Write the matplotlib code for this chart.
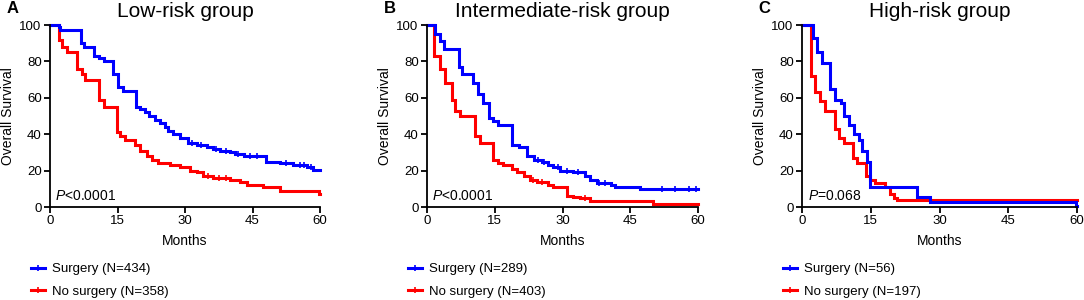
import numpy as np
import matplotlib.pyplot as plt
from matplotlib.lines import Line2D

plt.rcParams['font.family'] = ['Liberation Sans', 'DejaVu Sans']
plt.rcParams['mathtext.fontset'] = 'custom'
plt.rcParams['mathtext.it'] = 'Liberation Sans:italic'
plt.rcParams['mathtext.rm'] = 'Liberation Sans'

# ---- data ----
titles = ['Low-risk group', 'Intermediate-risk group', 'High-risk group']
letters = ['A', 'B', 'C']
pvals = ['$\\it{P}$<0.0001', '$\\it{P}$<0.0001', '$\\it{P}$=0.068']
surg_labels = ['Surgery (N=434)', 'Surgery (N=289)', 'Surgery (N=56)']
nosurg_labels = ['No surgery (N=358)', 'No surgery (N=403)', 'No surgery (N=197)']
xticks = [0, 15, 30, 45, 60]
yticks = [0, 20, 40, 60, 80, 100]

a_surg_t = [0, 2, 2.3, 6.8, 7.6, 9.7, 10.8, 11.9, 14.1, 15.0, 16.3, 19.0, 20.0, 21.0,
            21.9, 23.3, 24.4, 25.5, 26.3, 27.4, 28.9, 30.7, 32.6, 34.8, 36.3, 37.8,
            40.0, 41.1, 43.0, 48.0, 51.0, 54.0, 57.0, 58.5, 60]
a_surg_s = [100, 99, 97, 90, 88, 83, 82, 80, 73, 66, 64, 55, 54, 52,
            50, 48, 46, 44, 42, 40, 38, 35, 34, 33, 32, 31,
            30, 29, 28, 25, 24, 23, 22, 20.5, 20.5]
a_surg_cens = [31.5, 33.5, 36.8, 39.0, 41.8, 44.5, 46.0, 52.5, 55.5, 56.5, 58.0]

a_no_t = [0, 1.9, 2.7, 3.7, 5.9, 7.0, 7.8, 10.9, 11.9, 14.8, 15.6, 16.7, 18.9, 20.0,
          21.5, 22.6, 24.1, 26.7, 28.9, 31.1, 32.6, 34.1, 36.3, 40.0, 42.2, 43.7,
          47.4, 51.1, 59.8, 60]
a_no_s = [100, 92, 88, 85, 76, 73, 70, 59, 55, 41, 39, 37, 34, 31,
          28, 26, 24, 23, 22, 20, 19, 17, 16, 15, 14, 12,
          11, 9, 7, 7]
a_no_cens = [35.0, 37.5, 39.0]

b_surg_t = [0, 1.8, 2.9, 3.7, 7.0, 7.7, 10.2, 11.4, 12.5, 13.8, 14.7, 15.8, 18.9,
            20.3, 22.1, 23.6, 25.4, 26.9, 28.0, 29.5, 32.4, 35.0, 36.1, 37.6, 40.8,
            41.6, 47.1, 60]
b_surg_s = [100, 95, 91, 87, 77, 73, 68, 62, 57, 49, 47, 45, 34,
            33, 28, 26, 25, 23, 22, 20, 19, 17, 15, 13, 12,
            11, 10, 10]
b_surg_cens = [24.5, 26.0, 29.0, 31.0, 33.5, 38.0, 39.5, 52.0, 55.0, 58.0, 59.5]

b_no_t = [0, 1.6, 2.9, 4.0, 5.5, 6.3, 7.4, 10.7, 11.8, 14.7, 15.8, 16.9, 18.8,
          19.9, 21.4, 22.8, 24.3, 26.9, 28.0, 30.9, 32.4, 33.9, 36.1, 50.1, 60]
b_no_s = [100, 83, 76, 68, 59, 53, 50, 39, 35, 26, 24, 23, 21,
          19, 17, 15, 14, 12, 11, 6, 5.5, 5, 3.5, 1.5, 1.5]
b_no_cens = [23.5, 25.5, 35.0]

c_surg_t = [0, 2.5, 3.3, 4.4, 6.2, 7.3, 8.4, 9.1, 10.2, 11.3, 12.4, 13.1, 14.2,
            14.9, 25.1, 28.0, 59.8, 60]
c_surg_s = [100, 93, 85, 79, 65, 59, 57, 50, 45, 40, 37, 31, 25,
            11, 5.5, 3, 0.5, 0.5]
c_surg_cens = []

c_no_t = [0, 2.0, 2.9, 4.0, 5.1, 7.1, 8.0, 9.1, 11.1, 12.0, 14.0, 14.9, 16.0,
          18.2, 19.3, 20.0, 20.7, 60]
c_no_s = [100, 72, 63, 58, 53, 43, 38, 35, 27, 24, 17, 15, 13,
          11, 7, 5, 3.8, 3.8]
c_no_cens = []

panels = [
    (a_surg_t, a_surg_s, a_surg_cens, a_no_t, a_no_s, a_no_cens),
    (b_surg_t, b_surg_s, b_surg_cens, b_no_t, b_no_s, b_no_cens),
    (c_surg_t, c_surg_s, c_surg_cens, c_no_t, c_no_s, c_no_cens),
]

BLUE = '#0000ff'
RED = '#ff0000'

fig = plt.figure(figsize=(10.84, 3.0), dpi=100)
lefts = [50, 427, 802]
widths = [270, 271, 275]


def step_at(t, s, x):
    t = np.asarray(t)
    s = np.asarray(s)
    idx = np.searchsorted(t, x, side='right') - 1
    return s[idx]


for k in range(3):
    ax = fig.add_axes([lefts[k] / 1084, 1 - 207 / 300, widths[k] / 1084, 182 / 300])
    st, ss, sc, nt, ns, nc = panels[k]

    # red first, blue on top
    ax.step(nt, ns, where='post', color=RED, lw=2.2, solid_joinstyle='miter', clip_on=False)
    ax.step(st, ss, where='post', color=BLUE, lw=2.2, solid_joinstyle='miter', clip_on=False)
    if nc:
        ax.plot(nc, step_at(nt, ns, nc), ls='none', marker='|', ms=5, mew=1.2, color=RED)
    if sc:
        ax.plot(sc, step_at(st, ss, sc), ls='none', marker='|', ms=5, mew=1.2, color=BLUE)

    ax.set_xlim(0, 60)
    ax.set_ylim(0, 100)
    ax.set_xticks(xticks)
    ax.set_yticks(yticks)
    for side in ['top', 'right']:
        ax.spines[side].set_visible(False)
    for side in ['left', 'bottom']:
        ax.spines[side].set_linewidth(1.3)
    ax.tick_params(width=1.3, length=4, labelsize=9.5, pad=2)
    ax.set_ylabel('Overall Survival', fontsize=10, labelpad=3)
    ax.set_xlabel('Months', fontsize=10, labelpad=5)
    ax.set_title(titles[k], fontsize=15, pad=6)
    ax.text(-0.16, 1.13, letters[k], transform=ax.transAxes, fontsize=12,
            fontweight='bold', va='top', ha='left')
    ax.text(0.02, 0.02, pvals[k], transform=ax.transAxes, fontsize=10,
            va='bottom', ha='left')

    handles = [
        Line2D([], [], color=BLUE, lw=2.2, marker='|', ms=5, mew=1.2),
        Line2D([], [], color=RED, lw=2.2, marker='|', ms=5, mew=1.2),
    ]
    ax.legend(handles, [surg_labels[k], nosurg_labels[k]], loc='upper left',
              bbox_to_anchor=(-0.09, -0.28), frameon=False, fontsize=9.5,
              handlelength=1.1, handletextpad=0.5, labelspacing=0.75,
              numpoints=1, borderaxespad=0)

fig.savefig('out.png', dpi=100)
